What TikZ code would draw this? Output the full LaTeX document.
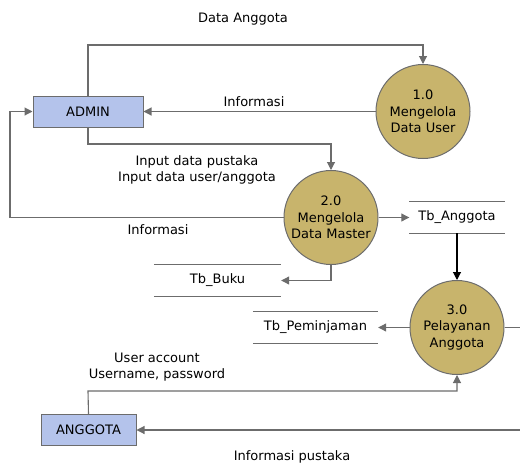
\documentclass[tikz,border=0pt]{standalone}
\usepackage{fontspec}
\setmainfont{DejaVu Sans}
\usetikzlibrary{arrows.meta}

\definecolor{linegray}{HTML}{6C6C6C}
\definecolor{entityblue}{HTML}{B4C3EB}
\definecolor{procgold}{HTML}{C8B46C}

\tikzset{
    entity/.style = {draw = linegray, fill = entityblue, line width = 1pt, minimum height = 31pt, inner sep = 0pt},
    process/.style = {circle, draw = linegray, fill = procgold, line width = 1pt, minimum size = 94pt, inner sep = 0pt, align = center},
    store/.style = {minimum height = 31pt, inner sep = 0pt},
    flow/.style = {draw = linegray, line width = 1.1pt, -{Triangle[length = 8pt, width = 8pt]}},
    lbl/.style = {align = center, inner sep = 0pt}
}

\begin{document}
\begin{tikzpicture}[x = 1pt, y = -1pt, font = \fontsize{13}{16.5}\selectfont]
    \useasboundingbox (0, 0) rectangle (520, 464);

    % entities and processes
    \node[entity, minimum width = 110pt] (admin) at (88, 111.5) {ADMIN};
    \node[entity, minimum width = 95pt] (anggota) at (88.5, 430) {ANGGOTA};
    \node[process] (p1) at (423, 111.5) {1.0\\Mengelola\\Data User};
    \node[process] (p2) at (331, 217.5) {2.0\\Mengelola\\Data Master};
    \node[process] (p3) at (457, 327.5) {3.0\\Pelayanan\\Anggota};

    % data stores
    \node[store, minimum width = 95pt] (tbA) at (457, 217.5) {Tb\_Anggota};
    \node[store, minimum width = 127pt] (tbB) at (217.5, 280.5) {Tb\_Buku};
    \node[store, minimum width = 125pt] (tbP) at (315.5, 327.5) {Tb\_Peminjaman};
    \foreach \s in {tbA, tbB, tbP} {
        \draw[linegray, line width = 1pt] (\s.north west) -- (\s.north east);
        \draw[linegray, line width = 1pt] (\s.south west) -- (\s.south east);
    }

    % bends
    \coordinate (b1) at (88, 45);
    \coordinate (b2) at (88, 144);
    \coordinate (b3) at (10, 217.5);
    \coordinate (b4) at (88, 391);
    \coordinate (b5) at (535, 327.5);

    % flows
    \draw[flow] (admin.north) -- (b1) -| (p1.north);
    \draw[flow] (p1.west) -- (admin.east);
    \draw[flow] (admin.south) -- (b2) -| (p2.north);
    \draw[flow] (p2.west) -- (b3) |- (admin.west);
    \draw[flow] (p2.east) -- (tbA.west);
    \draw[flow, draw = black] (tbA.south) -- (p3.north);
    \draw[flow] (p2.south) |- (tbB.east);
    \draw[flow] (p3.west) -- (tbP.east);
    \draw[flow] (anggota.north) -- (b4) -| (p3.south);
    \draw[flow] (p3.east) -- (b5) |- (anggota.east);

    % labels
    \node[lbl] (l1) at (243, 19) {Data Anggota};
    \node[lbl] (l2) at (254, 102) {Informasi};
    \node[lbl] (l3) at (197, 170) {Input data pustaka\\Input data user/anggota};
    \node[lbl] (l4) at (158, 230) {Informasi};
    \node[lbl] (l5) at (157, 367) {User account\\Username, password};
    \node[lbl] (l6) at (292, 457) {Informasi pustaka};
\end{tikzpicture}
\end{document}
